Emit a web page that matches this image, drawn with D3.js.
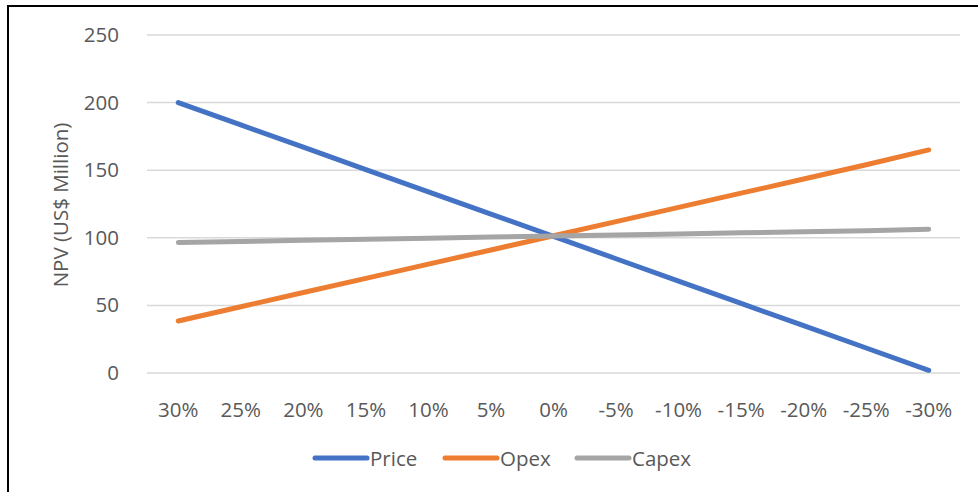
<!DOCTYPE html>
<html><head><meta charset="utf-8">
<script src="https://cdn.jsdelivr.net/npm/d3@7"></script>
<style>body{margin:0;background:#fff}svg{display:block}text{font-family:"Open Sans",sans-serif;fill:#595959}</style>
</head><body><svg id="c" width="978" height="492"></svg>
<script>
const categories = ["30%","25%","20%","15%","10%","5%","0%","-5%","-10%","-15%","-20%","-25%","-30%"];
const price = [200,183.5,167,150.5,134,117.5,101,84.5,68,51.5,35,18.5,2];
const opex  = [38.5,49,59.5,70,80.5,91,101.5,112,122.5,133,143.5,154,165];
const capex = [96.5,97.3,98.1,98.9,99.7,100.5,101.3,102.1,102.9,103.7,104.5,105.3,106.3];
const yTicks = [0,50,100,150,200,250];
const seriesNames = ["Price","Opex","Capex"];
const colors = ["#4472C4","#ED7D31","#A5A5A5"];
const series = [price, opex, capex];
const fs = "20.5px";

const svg = d3.select("#c");
svg.append("rect").attr("x",8).attr("y",6).attr("width",990).attr("height",500)
  .attr("fill","none").attr("stroke","#000").attr("stroke-width",2);

const x = d3.scaleBand().domain(categories).range([147,960]);
const y = d3.scaleLinear().domain([0,250]).range([373,35]);

const grid = svg.append("g");
grid.selectAll("line").data(yTicks).join("line")
  .attr("x1",147).attr("x2",960).attr("y1",d=>y(d)).attr("y2",d=>y(d))
  .attr("stroke","#D9D9D9").attr("stroke-width",1.5);

const yAxis = svg.append("g").attr("transform","translate(127,0)")
  .call(d3.axisLeft(y).tickValues(yTicks).tickSize(0).tickPadding(8));
yAxis.select(".domain").remove();
yAxis.selectAll("text").style("font-size",fs).attr("fill","#595959");

const xAxis = svg.append("g").attr("transform","translate(0,394)")
  .call(d3.axisBottom(x).tickSize(0).tickPadding(8));
xAxis.select(".domain").remove();
xAxis.selectAll("text").style("font-size",fs).attr("fill","#595959");

svg.append("text").attr("transform","translate(68,205) rotate(-90)")
  .attr("text-anchor","middle").style("font-size",fs).text("NPV (US$ Million)");

const line = d3.line().x((d,i)=>x(categories[i])+x.bandwidth()/2).y(d=>y(d));
series.forEach((s,k)=>{
  svg.append("path").datum(s).attr("d",line).attr("fill","none")
    .attr("stroke",colors[k]).attr("stroke-width",5).attr("stroke-linecap","round");
});

const legX = [315,445,577];
seriesNames.forEach((n,k)=>{
  svg.append("line").attr("x1",legX[k]).attr("x2",legX[k]+52).attr("y1",458).attr("y2",458)
    .attr("stroke",colors[k]).attr("stroke-width",5).attr("stroke-linecap","round");
  svg.append("text").attr("x",legX[k]+55).attr("y",465.5).style("font-size",fs).text(n);
});
</script></body></html>
